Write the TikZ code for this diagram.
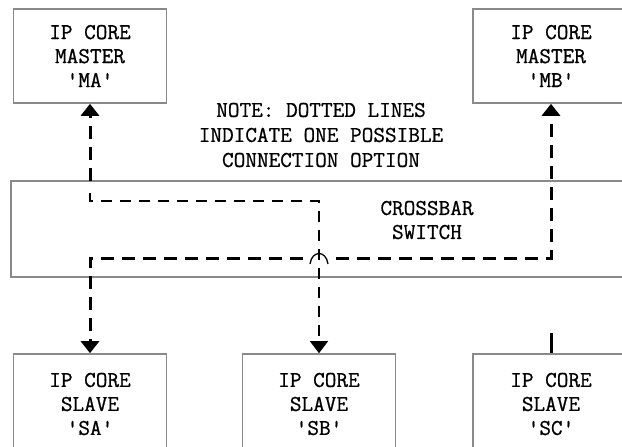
\documentclass[tikz,border=0pt]{standalone}
\usepackage{fontspec}
\newfontfamily\lmttb[FakeBold=0.8]{Latin Modern Mono}
\usetikzlibrary{arrows.meta}
\definecolor{boxgray}{HTML}{8A8A8A}
\newcommand\lbl{\lmttb\fontsize{22.6}{24}\selectfont}
\newcommand\notefont{\lmttb\fontsize{22.6}{25}\selectfont}
\tikzset{
  box/.style={draw=boxgray, line width=1.6pt, inner sep=0pt, align=center, font=\lbl},
  thickdash/.style={line width=3pt, dash pattern=on 13pt off 8pt, black},
  thindash/.style={line width=1.4pt, dash pattern=on 11pt off 8pt, black},
  tip/.style={-{Triangle[width=18pt,length=12pt]}},
  hopline/.style={line width=1.3pt, black},
}
\begin{document}
\begin{tikzpicture}[x=1pt,y=-1pt]
\useasboundingbox (0,0) rectangle (622,447);
\fill[white] (0,0) rectangle (622,447);
% boxes
\node[box, minimum width=153pt, minimum height=94pt] (MA) at (90,56) {IP CORE\\MASTER\\'MA'};
\node[box, minimum width=156pt, minimum height=94pt] (MB) at (551,56) {IP CORE\\MASTER\\'MB'};
\node[box, minimum width=616pt, minimum height=96pt] (XB) at (319,229) {};
\node[font=\lbl, align=center] (xbl) at (427,220) {CROSSBAR\\SWITCH};
\node[box, minimum width=153pt, minimum height=100pt] (SA) at (90,404) {IP CORE\\SLAVE\\'SA'};
\node[box, minimum width=153pt, minimum height=100pt] (SB) at (319,404) {IP CORE\\SLAVE\\'SB'};
\node[box, minimum width=156pt, minimum height=100pt] (SC) at (551,404) {IP CORE\\SLAVE\\'SC'};
\node[font=\notefont, align=center] (note) at (321,135) {NOTE: DOTTED LINES\\INDICATE ONE POSSIBLE\\CONNECTION OPTION};
% coordinates
\coordinate (a0) at (90,181);
\coordinate (a1) at (90,193);
\coordinate (a2) at (90,201);
\coordinate (a3) at (319,201);
\coordinate (b1) at (90,258);
\coordinate (b2) at (551,258);
\coordinate (hopL) at (303,258);
\coordinate (hopR) at (336,258);
\coordinate (h1) at (310,264);
\coordinate (h2) at (328,264);
\coordinate (c0) at (551,333);
% path MA <-> SB
\draw[thickdash, tip] (a0) -- (MA.south);
\draw[thindash, tip] (a1) -- (a2) -- (a3) -- (SB.north);
% path MB <-> SA
\draw[thickdash, tip] (hopL) -- (b1) -- (SA.north);
\draw[thickdash, tip] (hopR) -- (b2) -- (MB.south);
\draw[hopline] (h1) .. controls (312,250) and (326,250) .. (h2);
% SC stub
\draw[line width=3pt] (c0) -- (SC.north);
\end{tikzpicture}
\end{document}
